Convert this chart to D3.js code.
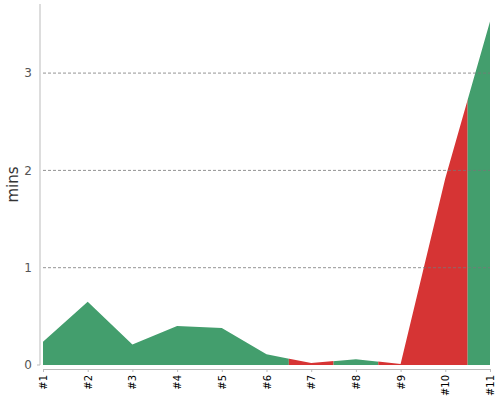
<!DOCTYPE html>
<html>
<head>
<meta charset="utf-8">
<script src="https://cdn.jsdelivr.net/npm/d3@7"></script>
<style>
  body { margin: 0; background: #fff; }
  text { font-family: "DejaVu Sans", sans-serif; }
</style>
</head>
<body>
<svg id="chart" width="500" height="400"></svg>
<script>
const runs = ["#1", "#2", "#3", "#4", "#5", "#6", "#7", "#8", "#9", "#10", "#11"];
const mins = [0.24, 0.65, 0.21, 0.40, 0.38, 0.11, 0.02, 0.06, 0.01, 1.92, 3.53];
const status = ["ok", "ok", "ok", "ok", "ok", "ok", "fail", "ok", "fail", "fail", "ok"];
const yTicks = [0, 1, 2, 3];

const colors = { ok: "#439e6d", fail: "#d63434" };

const svg = d3.select("#chart");
const plotLeft = 43, plotRight = 490, plotTop = 4, plotBottom = 365;

const x = d3.scaleLinear().domain([0, runs.length - 1]).range([plotLeft, plotRight]);
const y = d3.scaleLinear().domain([0, 3.71]).range([plotBottom, plotTop]);

const area = d3.area()
    .x((d, i) => x(i))
    .y0(y(0))
    .y1(d => y(d));

// group consecutive runs with the same status so there are no seams
const bands = [];
status.forEach((s, i) => {
    const last = bands[bands.length - 1];
    if (last && last.status === s) last.end = i;
    else bands.push({ status: s, start: i, end: i });
});

const defs = svg.append("defs");
bands.forEach((b, k) => {
    const x0 = x(Math.max(0, b.start - 0.5));
    const x1 = x(Math.min(runs.length - 1, b.end + 0.5));
    defs.append("clipPath").attr("id", "clip" + k)
        .append("rect")
        .attr("x", x0).attr("y", 0)
        .attr("width", x1 - x0).attr("height", 400);
});

svg.append("g").selectAll("path")
    .data(bands)
    .join("path")
    .attr("d", area(mins))
    .attr("fill", d => colors[d.status])
    .attr("clip-path", (d, k) => `url(#clip${k})`);

// grid lines
svg.append("g").selectAll("line")
    .data(yTicks.filter(t => t > 0))
    .join("line")
    .attr("x1", plotLeft).attr("x2", plotRight)
    .attr("y1", d => y(d)).attr("y2", d => y(d))
    .attr("stroke", "#777")
    .attr("stroke-width", 0.8)
    .attr("stroke-dasharray", "3,2");

// y axis
const yAxis = svg.append("g").attr("transform", "translate(40,0)")
    .call(d3.axisLeft(y).tickValues(yTicks).tickFormat(d3.format("d")).tickSize(0).tickPadding(8));
yAxis.select(".domain").attr("stroke", "#bbb").attr("d", `M0,${plotTop}V${plotBottom}`);
yAxis.selectAll("text").attr("fill", "#555").style("font-size", "12px");
yAxis.append("line").attr("x1", -3).attr("x2", 0).attr("y1", y(0)).attr("y2", y(0)).attr("stroke", "#bbb");

// x axis
const xAxis = svg.append("g").attr("transform", `translate(0,${plotBottom + 4})`)
    .call(d3.axisBottom(x).tickValues(d3.range(runs.length)).tickFormat(i => runs[i]).tickSize(3).tickSizeOuter(0));
xAxis.select(".domain").attr("stroke", "#bbb");
xAxis.selectAll(".tick line").attr("stroke", "#bbb");
xAxis.selectAll("text")
    .attr("fill", "#000")
    .style("font-size", "10px")
    .attr("transform", "rotate(-90)")
    .attr("text-anchor", "end")
    .attr("x", -6)
    .attr("y", 0)
    .attr("dy", "0.35em");

svg.append("text")
    .attr("transform", `translate(18,${(plotTop + plotBottom) / 2}) rotate(-90)`)
    .attr("text-anchor", "middle")
    .attr("fill", "#333")
    .style("font-size", "15px")
    .text("mins");
</script>
</body>
</html>
